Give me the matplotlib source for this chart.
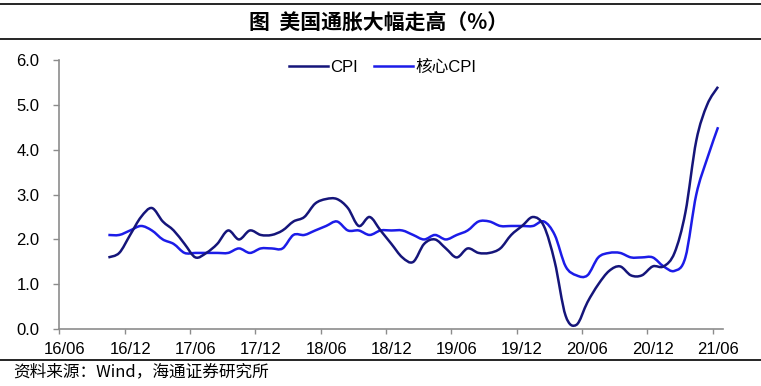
import numpy as np
import matplotlib.pyplot as plt
from matplotlib.path import Path
from matplotlib.patches import PathPatch
from matplotlib.lines import Line2D

plt.rcParams['font.family'] = ['Liberation Sans', 'Noto Sans CJK SC']

# x axis labels, every 6 months from 2016/06
tick_labels = ['16/06', '16/12', '17/06', '17/12', '18/06', '18/12',
               '19/06', '19/12', '20/06', '20/12', '21/06']
first_month = 4  # data starts 2016/10 (months after 2016/06)

# US CPI yoy (%), 2016/10 - 2021/06
cpi = [1.6, 1.7, 2.1,
       2.5, 2.7, 2.4, 2.2, 1.9, 1.6, 1.7, 1.9, 2.2, 2.0, 2.2, 2.1,
       2.1, 2.2, 2.4, 2.5, 2.8, 2.9, 2.9, 2.7, 2.3, 2.5, 2.2, 1.9,
       1.6, 1.5, 1.9, 2.0, 1.8, 1.6, 1.8, 1.7, 1.7, 1.8, 2.1, 2.3,
       2.5, 2.3, 1.5, 0.3, 0.1, 0.6, 1.0, 1.3, 1.4, 1.2, 1.2, 1.4,
       1.4, 1.7, 2.6, 4.2, 5.0, 5.4]
# core CPI yoy (%)
core_cpi = [2.1, 2.1, 2.2,
            2.3, 2.2, 2.0, 1.9, 1.7, 1.7, 1.7, 1.7, 1.7, 1.8, 1.7, 1.8,
            1.8, 1.8, 2.1, 2.1, 2.2, 2.3, 2.4, 2.2, 2.2, 2.1, 2.2, 2.2,
            2.2, 2.1, 2.0, 2.1, 2.0, 2.1, 2.2, 2.4, 2.4, 2.3, 2.3, 2.3,
            2.3, 2.4, 2.1, 1.4, 1.2, 1.2, 1.6, 1.7, 1.7, 1.6, 1.6, 1.6,
            1.4, 1.3, 1.6, 3.0, 3.8, 4.5]

c_cpi = '#15157a'
c_core = '#1c1ce8'
grey = '#8c8c8c'


def smooth_path(x, y):
    # excel style smoothed line as bezier curves through the data points
    pts = np.column_stack([x, y])
    n = len(pts)
    verts = [pts[0]]
    codes = [Path.MOVETO]
    for i in range(n - 1):
        p0 = pts[max(i - 1, 0)]
        p1 = pts[i]
        p2 = pts[i + 1]
        p3 = pts[min(i + 2, n - 1)]
        verts += [p1 + (p2 - p0) / 6, p2 - (p3 - p1) / 6, p2]
        codes += [Path.CURVE4] * 3
    return Path(verts, codes)


fig = plt.figure(figsize=(7.61, 3.86), dpi=100)
ax = fig.add_axes([0.078, 0.147, 0.872, 0.698])

x = np.arange(first_month, first_month + len(cpi))
ax.add_patch(PathPatch(smooth_path(x, core_cpi), facecolor='none',
                       edgecolor=c_core, lw=1.8, transform=ax.transData))
ax.add_patch(PathPatch(smooth_path(x, cpi), facecolor='none',
                       edgecolor=c_cpi, lw=1.8, transform=ax.transData))

ax.set_xlim(-0.5, 60.45)
ax.set_ylim(0, 6)

ax.set_yticks(np.arange(0, 6.1, 1.0))
ax.set_yticklabels(['%.1f' % v for v in np.arange(0, 6.1, 1.0)])

pos = np.arange(len(tick_labels)) * 6
ax.set_xticks(pos - 0.5)
ax.set_xticklabels([])
ax.set_xticks(pos, minor=True)
ax.set_xticklabels(tick_labels, minor=True)

ax.tick_params(axis='y', direction='out', length=4.3, width=1, color=grey,
               labelsize=12, pad=10)
ax.tick_params(axis='x', which='major', direction='out', length=3.5,
               width=1, color=grey)
ax.tick_params(axis='x', which='minor', length=0, labelsize=12, pad=9)

for s in ['top', 'right']:
    ax.spines[s].set_visible(False)
for s in ['left', 'bottom']:
    ax.spines[s].set_color(grey)
    ax.spines[s].set_linewidth(1.2)

handles = [Line2D([], [], color=c_cpi, lw=1.8),
           Line2D([], [], color=c_core, lw=1.8)]
fig.legend(handles, ['CPI', '核心CPI'], loc='center',
           bbox_to_anchor=(0.503, 0.826), ncol=2, frameon=False,
           fontsize=12, handlelength=2.3, handletextpad=0.15,
           columnspacing=1.0)

# title band and footer
for yy in [1 - 4.3 / 386, 1 - 39 / 386, 1 - 360 / 386]:
    fig.add_artist(Line2D([0, 1], [yy, yy], transform=fig.transFigure,
                          color='black', lw=1.2))
fig.text(0.4977, 1 - 22 / 386, '图  美国通胀大幅走高（%）', ha='center',
         va='center', fontsize=15, fontweight='bold',
         family=['Noto Sans CJK SC'])
fig.text(13 / 761, 1 - 372 / 386, '资料来源：Wind，海通证券研究所',
         ha='left', va='center', fontsize=12,
         family=['Noto Sans CJK SC', 'Liberation Sans'])

fig.savefig('out.png', dpi=100)
